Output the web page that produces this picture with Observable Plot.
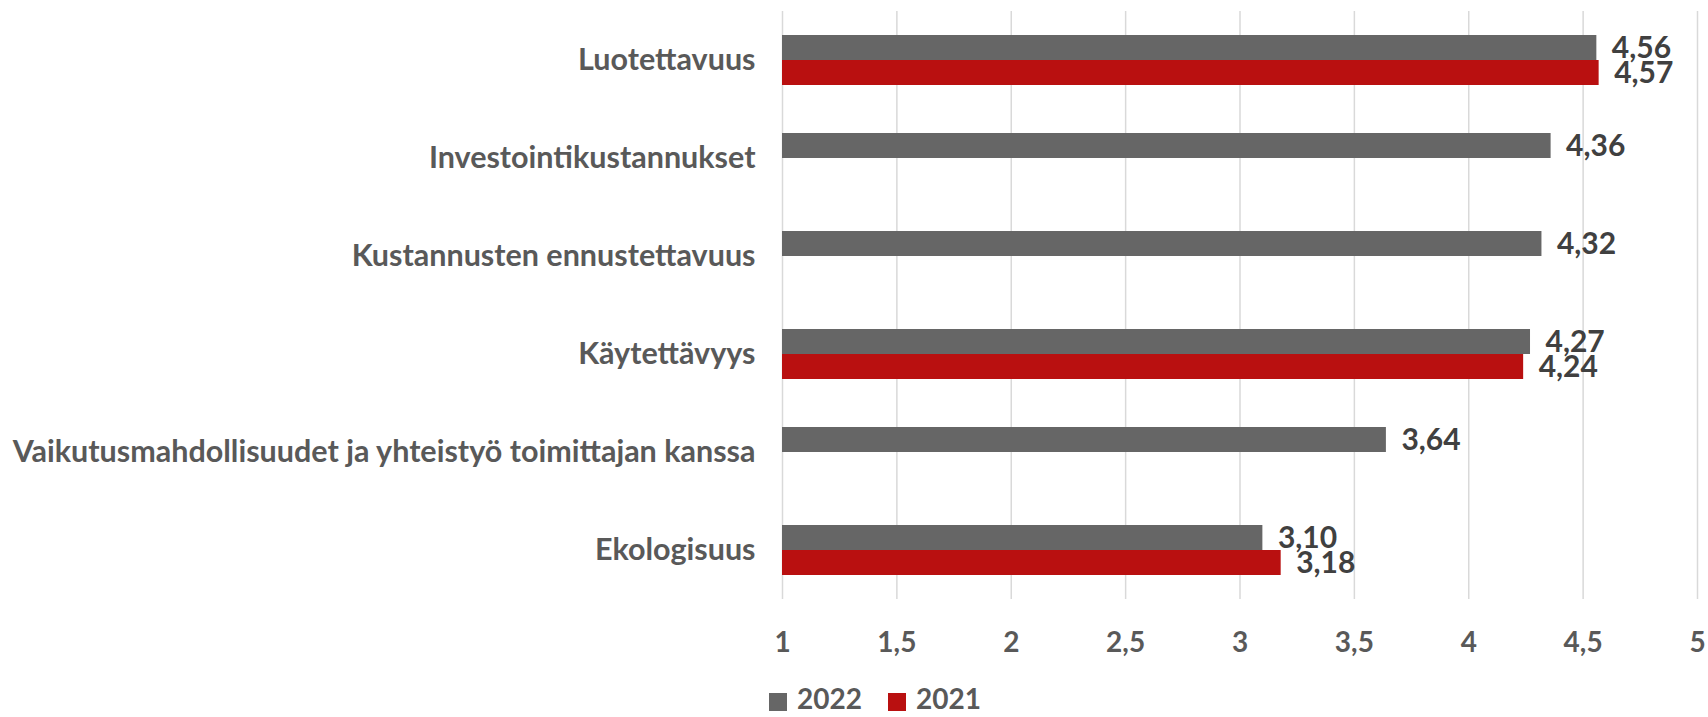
<!DOCTYPE html>
<html>
<head>
<meta charset="utf-8">
<script src="https://cdn.jsdelivr.net/npm/d3@7"></script>
<script src="https://cdn.jsdelivr.net/npm/@observablehq/plot@0.6"></script>
<style>
  html, body { margin: 0; padding: 0; background: #ffffff; }
  #chart { width: 1708px; }
  .legend { display: flex; align-items: center; height: 52px; margin-top: 7px; margin-left: 769px; font-family: Lato, sans-serif; font-weight: bold; font-size: 28px; color: #595959; }
  .legend .item { display: flex; align-items: center; margin-right: 26px; }
  .legend .sw { width: 18px; height: 18px; margin-right: 10px; margin-top: 8px; }
</style>
</head>
<body>
<div id="chart"></div>
<script>
const categories = [
  "Luotettavuus",
  "Investointikustannukset",
  "Kustannusten ennustettavuus",
  "Käytettävyys",
  "Vaikutusmahdollisuudet ja yhteistyö toimittajan kanssa",
  "Ekologisuus"
];
const years = ["2022", "2021"];
const values2022 = [4.56, 4.36, 4.32, 4.27, 3.64, 3.10];
const values2021 = [4.57, null, null, 4.24, null, 3.18];
const xTicks = [1, 1.5, 2, 2.5, 3, 3.5, 4, 4.5, 5];
const xMin = 1, xMax = 5;
const colors = {"2022": "#666666", "2021": "#b91010"};

const data = [];
categories.forEach((c, i) => {
  if (values2022[i] != null) data.push({category: c, year: "2022", value: values2022[i]});
  if (values2021[i] != null) data.push({category: c, year: "2021", value: values2021[i]});
});

const fmt = d => String(d).replace(".", ",");
const fmt2 = d => d.toFixed(2).replace(".", ",");

const chart = Plot.plot({
  width: 1708,
  height: 665,
  marginTop: 9,
  marginBottom: 65,
  marginLeft: 782,
  marginRight: 11,
  style: {fontFamily: "Lato, sans-serif", fontWeight: "bold", fontSize: "28px", color: "#595959", background: "#ffffff"},
  x: {domain: [xMin, xMax]},
  y: {domain: years, paddingInner: 0, paddingOuter: 0.894, axis: null},
  fy: {domain: categories, padding: 0},
  color: {domain: years, range: years.map(y => colors[y])},
  marks: [
    Plot.gridX(xTicks, {stroke: "#d9d9d9", strokeOpacity: 1, strokeWidth: 1.5}),
    Plot.barX(data, {x1: xMin, x2: "value", y: "year", fy: "category", fill: "year"}),
    Plot.text(data, {x: "value", y: "year", fy: "category", text: d => fmt2(d.value), textAnchor: "start", dx: 15, fill: "#404040", fontSize: 30, fontWeight: "bold"}),
    Plot.axisX({ticks: xTicks, tickFormat: fmt, tickSize: 0, tickPadding: 33, fontSize: 28, fontWeight: "bold", label: null}),
    Plot.axisFy({anchor: "left", tickSize: 0, tickPadding: 27, fontSize: 30.5, fontWeight: "bold", label: null})
  ]
});
document.getElementById("chart").appendChild(chart);

const legend = document.createElement("div");
legend.className = "legend";
years.forEach(y => {
  const item = document.createElement("div");
  item.className = "item";
  const sw = document.createElement("span");
  sw.className = "sw";
  sw.style.background = colors[y];
  const t = document.createElement("span");
  t.textContent = y;
  item.appendChild(sw);
  item.appendChild(t);
  legend.appendChild(item);
});
document.body.appendChild(legend);
</script>
</body>
</html>
